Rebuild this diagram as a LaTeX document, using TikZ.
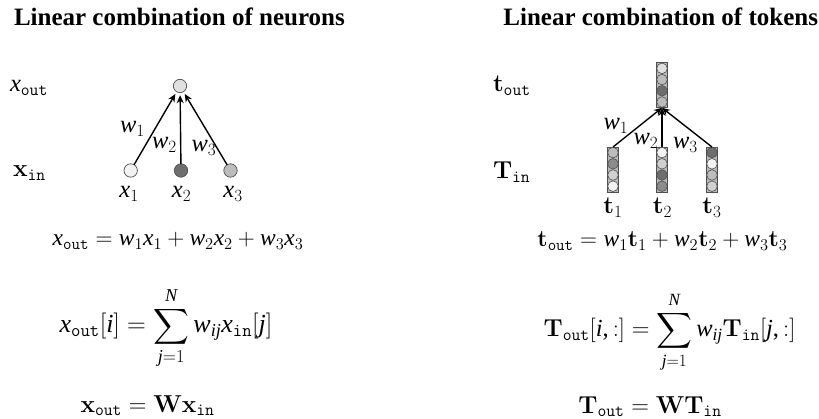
\RequirePackage{fix-cm}
\documentclass[tikz,border=0pt]{standalone}
\usepackage{amsmath}
\usepackage{fontspec}
\setmainfont{Liberation Serif}
\newfontfamily\libserfam{Liberation Serif}[NFSSFamily=libser]
\DeclareSymbolFont{operators}{TU}{libser}{m}{n}
\DeclareSymbolFont{letters}{TU}{libser}{m}{it}
\DeclareMathAlphabet{\mathcmbf}{OT1}{cmr}{bx}{n}
\DeclareMathAlphabet{\mathcmtt}{OT1}{cmtt}{m}{n}
\mathcode`\,="602C
\usetikzlibrary{arrows.meta,calc}
\definecolor{gA}{HTML}{F2F2F2}
\definecolor{gB}{HTML}{E0E0E0}
\definecolor{gC}{HTML}{D0D0D0}
\definecolor{gD}{HTML}{BCBCBC}
\definecolor{gE}{HTML}{8C8C8C}
\definecolor{gF}{HTML}{6E6E6E}
\definecolor{edge}{HTML}{505050}
\newcommand\tokcol[6]{%
  \node[colbox] (#1) at #2 {};
  \fill[#3, draw=edge, line width=0.6pt] ($(#1.north)+(0,5.6)$) circle (5.3);
  \fill[#4, draw=edge, line width=0.6pt] ($(#1.north)+(0,16.8)$) circle (5.3);
  \fill[#5, draw=edge, line width=0.6pt] ($(#1.north)+(0,28)$) circle (5.3);
  \fill[#6, draw=edge, line width=0.6pt] ($(#1.north)+(0,39.2)$) circle (5.3);
}
\begin{document}
\begin{tikzpicture}[x=1pt,y=-1pt,
  every node/.style={inner sep=0pt, outer sep=0pt, font=\fontsize{24.5}{28}\selectfont},
  title/.style={font=\fontsize{25}{29}\selectfont\bfseries},
  eqa/.style={font=\fontsize{23.5}{27}\selectfont},
  eqb/.style={font=\fontsize{26}{30}\selectfont},
  neuron/.style={circle, draw=edge, line width=0.7pt, minimum size=13.4pt},
  colbox/.style={rectangle, draw=edge, fill=gray!55, line width=0.8pt, minimum width=11.4pt, minimum height=45pt},
  arr/.style={line width=1.4pt, -{Stealth[length=8pt,width=7pt]}}
]
\useasboundingbox (0,0) rectangle (819,419);
% titles
\node[title, anchor=base west] (tl) at (14,26) {Linear combination of neurons};
\node[title, anchor=base east] (tr) at (818,26) {Linear combination of tokens};
% row labels
\node[anchor=base west] (lxout) at (10,92) {$x_{\mathcmtt{out}}$};
\node[anchor=base west] (lxin) at (13,177) {$\mathcmbf{x}_{\mathcmtt{in}}$};
\node[anchor=base west] (ltout) at (493,92) {$\mathcmbf{t}_{\mathcmtt{out}}$};
\node[anchor=base west] (lTin) at (493,179) {$\mathcmbf{T}_{\mathcmtt{in}}$};
% neurons
\node[neuron, fill=gB] (o) at (180,86) {};
\node[neuron, fill=gA] (x1) at (130.7,170.5) {};
\node[neuron, fill=gF] (x2) at (181,170.5) {};
\node[neuron, fill=gD] (x3) at (230.5,170.5) {};
\draw[arr, shorten >=2.5pt] (x1) -- (o);
\draw[arr, shorten >=2.5pt] (x2) -- (o);
\draw[arr, shorten >=2.5pt] (x3) -- (o);
\node[anchor=base] (lx1) at (129,198) {$x_1$};
\node[anchor=base] (lx2) at (181.5,198) {$x_2$};
\node[anchor=base] (lx3) at (233,198) {$x_3$};
\node (w1) at (132.5,129) {$w_1$};
\node (w2) at (164.5,145) {$w_2$};
\node (w3) at (204,148) {$w_3$};
% tokens
\tokcol{ct}{(662,85.3)}{gB}{gD}{gF}{gD}
\tokcol{c1}{(613,169.5)}{gD}{gE}{gC}{gA}
\tokcol{c2}{(662,169.5)}{gA}{gC}{gF}{gE}
\tokcol{c3}{(712,169.5)}{gF}{gA}{gD}{gC}
\draw[arr] (c1.north) -- (ct.south);
\draw[arr] (c2.north) -- (ct.south);
\draw[arr] (c3.north) -- (ct.south);
\node (v1) at (616,126) {$w_1$};
\node (v2) at (646,141) {$w_2$};
\node (v3) at (685.5,145) {$w_3$};
\node[anchor=base] (lt1) at (613,214) {$\mathcmbf{t}_1$};
\node[anchor=base] (lt2) at (662.5,214) {$\mathcmbf{t}_2$};
\node[anchor=base] (lt3) at (712,214) {$\mathcmbf{t}_3$};
% equations left
\node[eqa, anchor=base] (e1) at (178,246) {$x_{\mathcmtt{out}} = w_1x_1 + w_2x_2 + w_3x_3$};
\node[eqb, anchor=base] (e2) at (166,333) {$\displaystyle x_{\mathcmtt{out}}[i] = \sum_{j=1}^{N} w_{ij} x_{\mathcmtt{in}}[j]$};
\node[anchor=base] (e3) at (147.5,412) {$\mathcmbf{x}_{\mathcmtt{out}} = \mathcmbf{W}\mathcmbf{x}_{\mathcmtt{in}}$};
% equations right
\node[eqa, anchor=base] (f1) at (662.5,247) {$\mathcmbf{t}_{\mathcmtt{out}} = w_1\mathcmbf{t}_1 + w_2\mathcmbf{t}_2 + w_3\mathcmbf{t}_3$};
\node[anchor=base] (f2) at (669.5,337) {$\displaystyle \mathcmbf{T}_{\mathcmtt{out}}[i,:] = \sum_{j=1}^{N} w_{ij} \mathcmbf{T}_{\mathcmtt{in}}[j,:]$};
\node[anchor=base] (f3) at (650,413) {$\mathcmbf{T}_{\mathcmtt{out}} = \mathcmbf{W}\mathcmbf{T}_{\mathcmtt{in}}$};
\end{tikzpicture}
\end{document}
